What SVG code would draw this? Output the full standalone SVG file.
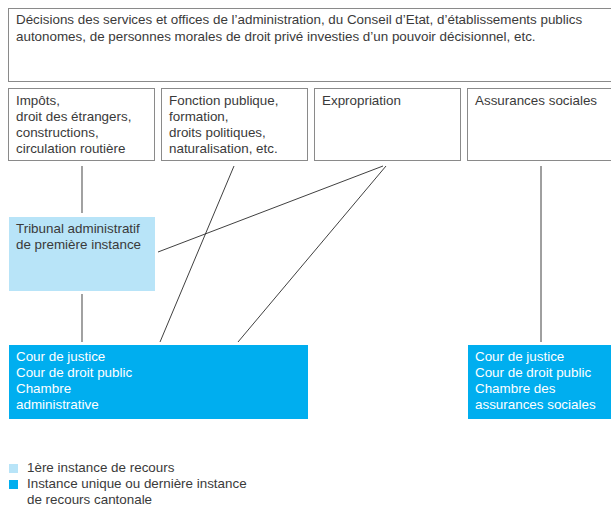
<svg xmlns="http://www.w3.org/2000/svg" width="611" height="506" viewBox="0 0 611 506">
<style>
text{font-family:"Liberation Sans",Arial,sans-serif;font-size:13.4px;fill:#3a3a3a}
.box{fill:#fff;stroke:#8a8a8a;stroke-width:1}
.light{fill:#b8e4f8}
.dark{fill:#00aeef}
.w{fill:#fff}
.gl{stroke:#7a7a7a;stroke-width:1.4;fill:none}
.tl{stroke:#2a2a2a;stroke-width:0.9;fill:none}
</style>
<rect width="611" height="506" fill="#fff"/>
<g id="decisions">
<rect class="box" x="8.5" y="8.5" width="610" height="73"/>
<text x="16" y="24">Décisions des services et offices de l’administration, du Conseil d’Etat, d’établissements publics</text>
<text x="16" y="41">autonomes, de personnes morales de droit privé investies d’un pouvoir décisionnel, etc.</text>
</g>
<g id="impots">
<rect class="box" x="8.5" y="88.5" width="146" height="72"/>
<text x="16" y="105">Impôts,</text>
<text x="16" y="121">droit des étrangers,</text>
<text x="16" y="137">constructions,</text>
<text x="16" y="153">circulation routière</text>
</g>
<g id="fonction">
<rect class="box" x="161.5" y="88.5" width="146" height="72"/>
<text x="169" y="105">Fonction publique,</text>
<text x="169" y="121">formation,</text>
<text x="169" y="137">droits politiques,</text>
<text x="169" y="153">naturalisation, etc.</text>
</g>
<g id="expropriation">
<rect class="box" x="314.5" y="88.5" width="146" height="72"/>
<text x="322" y="105">Expropriation</text>
</g>
<g id="assurances">
<rect class="box" x="467.5" y="88.5" width="150" height="72"/>
<text x="475" y="105">Assurances sociales</text>
</g>
<g id="tribunal">
<rect class="light" x="9" y="217" width="146" height="74"/>
<text x="16" y="233">Tribunal administratif</text>
<text x="16" y="249">de première instance</text>
</g>
<g id="cour-admin">
<rect class="dark" x="9" y="345" width="299" height="74"/>
<text class="w" x="16" y="361">Cour de justice</text>
<text class="w" x="16" y="377">Cour de droit public</text>
<text class="w" x="16" y="393">Chambre</text>
<text class="w" x="16" y="409">administrative</text>
</g>
<g id="cour-assurances">
<rect class="dark" x="468" y="345" width="143" height="74"/>
<text class="w" x="475" y="361">Cour de justice</text>
<text class="w" x="475" y="377">Cour de droit public</text>
<text class="w" x="475" y="393">Chambre des</text>
<text class="w" x="475" y="409">assurances sociales</text>
</g>
<g id="connectors">
<line class="gl" x1="82" y1="166" x2="82" y2="213"/>
<line class="gl" x1="82" y1="294" x2="82" y2="342"/>
<line class="tl" x1="234" y1="166" x2="160" y2="342"/>
<line class="tl" x1="383" y1="166" x2="158" y2="252"/>
<line class="tl" x1="386" y1="166" x2="238" y2="342"/>
<line class="tl" x1="541" y1="166" x2="541" y2="342"/>
</g>
<g id="legend">
<rect class="light" x="9" y="464" width="9" height="9"/>
<text x="27" y="472">1ère instance de recours</text>
<rect class="dark" x="9" y="480" width="9" height="9"/>
<text x="27" y="488">Instance unique ou dernière instance</text>
<text x="27" y="503.5">de recours cantonale</text>
</g>
</svg>
